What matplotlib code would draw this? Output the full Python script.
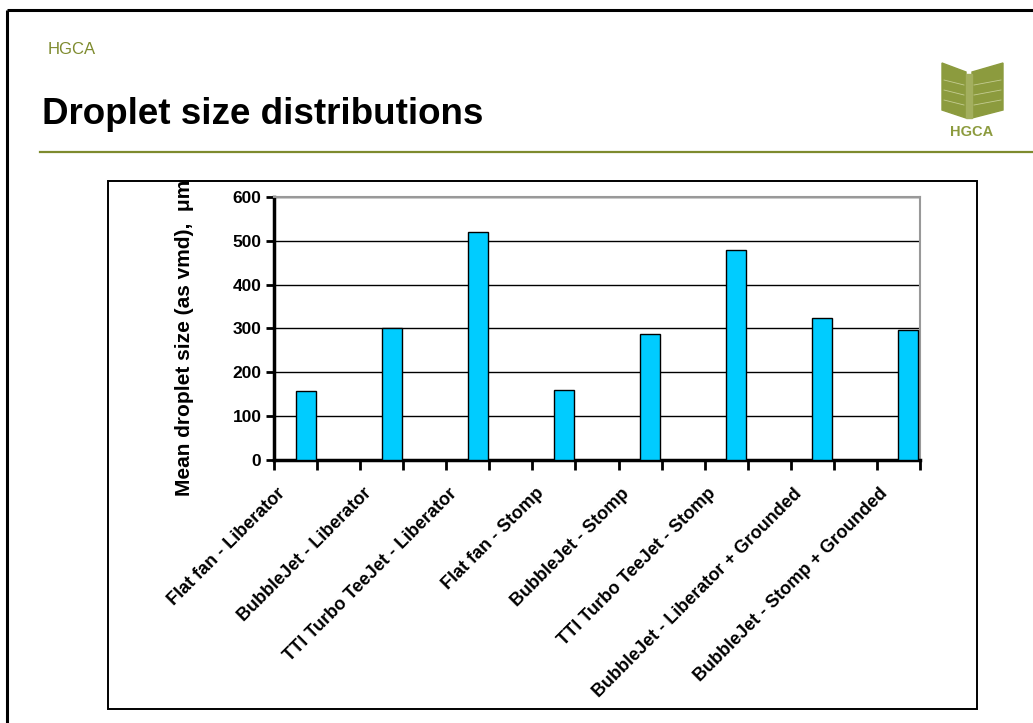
import matplotlib
matplotlib.use("Agg")
import matplotlib.pyplot as plt
from matplotlib.patches import Rectangle, Polygon
from matplotlib.transforms import ScaledTranslation

# Data
labels = [
    "Flat fan - Liberator",
    "BubbleJet - Liberator",
    "TTI Turbo TeeJet - Liberator",
    "Flat fan - Stomp",
    "BubbleJet - Stomp",
    "TTI Turbo TeeJet - Stomp",
    "BubbleJet - Liberator + Grounded",
    "BubbleJet - Stomp + Grounded",
]
vmd = [157, 300, 520, 160, 287, 480, 325, 296]
yticks = [0, 100, 200, 300, 400, 500, 600]
n_slots = 15          # the sheet had an empty category between each nozzle

_OLIVE = "#7E8B2E"
_CYAN = "#00CCFF"

plt.rcParams["font.family"] = ["Liberation Sans", "DejaVu Sans"]

W, H = 1033, 723
fig = plt.figure(figsize=(W / 100, H / 100), dpi=100)
fig.patch.set_facecolor("white")

# slide decoration layer in pixel coordinates
deco = fig.add_axes([0, 0, 1, 1], zorder=0)
deco.set_xlim(0, W)
deco.set_ylim(H, 0)
deco.axis("off")

deco.plot([7, 7], [10, H], color="black", lw=2.2, solid_capstyle="butt")
deco.plot([7, W], [10, 10], color="black", lw=2.2, solid_capstyle="butt")
deco.plot([40, W], [152, 152], color=_OLIVE, lw=1.6)
deco.text(48, 50, "HGCA", color=_OLIVE, fontsize=12, va="center", ha="left")
deco.text(42, 124, "Droplet size distributions", fontsize=26.5,
          fontweight="bold", va="baseline", ha="left")

# logo
deco.add_patch(Polygon([(942, 63), (966, 72), (966, 118), (942, 110)],
                       closed=True, color="#8C9B3E"))
deco.add_patch(Polygon([(972, 72), (1003, 63), (1003, 110), (972, 118)],
                       closed=True, color="#8C9B3E"))
deco.add_patch(Rectangle((966, 74), 6, 44, color="#A3AF5E"))
for yy in (80, 90, 100):
    deco.plot([944, 964], [yy, yy + 5], color="#C4CC92", lw=0.6)
    deco.plot([974, 1001], [yy + 5, yy], color="#C4CC92", lw=0.6)
deco.text(972, 132, "HGCA", color="#8C9B3E", fontsize=10.5,
          fontweight="bold", ha="center", va="center")

# chart frame
deco.add_patch(Rectangle((108, 181), 977 - 108, 709 - 181, fill=False,
                         edgecolor="black", lw=1.4))

# chart
ax = fig.add_axes([274 / W, 1 - 460 / H, (920 - 274) / W, (460 - 197) / H],
                  zorder=1)
ax.set_facecolor("white")

pos = [2 * i for i in range(len(vmd))]
bar_w = 0.465
ax.bar([p + bar_w / 2 for p in pos], vmd, width=bar_w, color=_CYAN,
       edgecolor="black", linewidth=1.0, zorder=3)

ax.set_xlim(-0.5, n_slots - 0.5)
ax.set_ylim(0, 600)
ax.set_yticks(yticks)
ax.set_yticklabels([str(v) for v in yticks], fontweight="bold", fontsize=12.5)
ax.grid(axis="y", color="black", lw=1.0, zorder=1)

# tick marks on category boundaries, labels on the nozzle slots
ax.set_xticks([i - 0.5 for i in range(n_slots + 1)])
ax.set_xticklabels([])
ax.set_xticks(pos, minor=True)
ax.set_xticklabels(labels, minor=True, rotation=45, ha="right", va="top",
                   rotation_mode="anchor", fontweight="bold", fontsize=13)
ax.tick_params(axis="x", which="minor", length=0, pad=18)
ax.tick_params(axis="x", which="major", length=7, width=2, direction="out")
ax.tick_params(axis="y", length=6, width=2, direction="out", pad=3)
shift = ScaledTranslation(-0.19, 0, fig.dpi_scale_trans)
for lab in ax.get_xticklabels(minor=True):
    lab.set_transform(lab.get_transform() + shift)

for side in ("left", "bottom"):
    ax.spines[side].set_linewidth(2.5)
    ax.spines[side].set_color("black")
for side in ("top", "right"):
    ax.spines[side].set_linewidth(1.5)
    ax.spines[side].set_color("#999999")

fig.text(185 / W, 1 - 338 / H, "Mean droplet size (as vmd),  \u03bcm",
         rotation=90, ha="center", va="center", fontweight="bold",
         fontsize=15)

fig.savefig("out.png", dpi=100)
